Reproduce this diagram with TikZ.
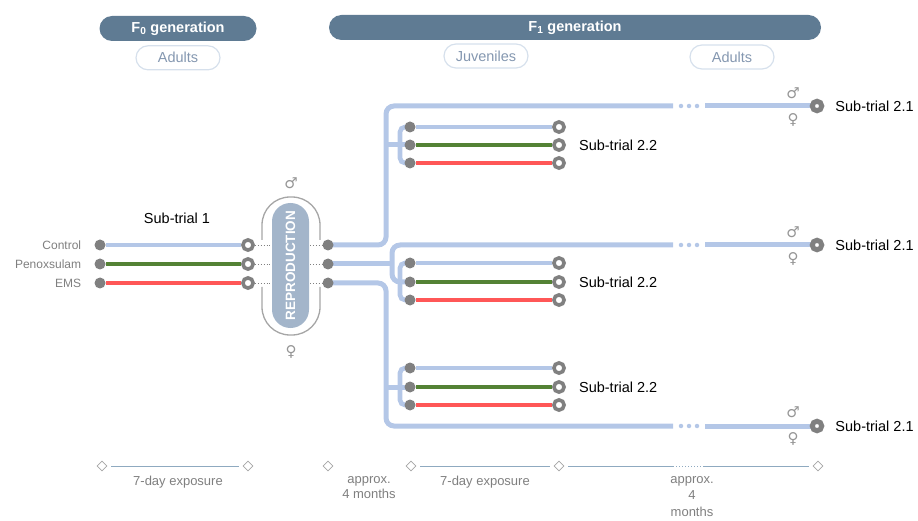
\documentclass[tikz,border=0pt]{standalone}
\usepackage{fontspec}
\setmainfont{Liberation Sans}
\newfontfamily\symfont{DejaVu Sans}
\usetikzlibrary{shapes.geometric, positioning, backgrounds}
\definecolor{headblue}{RGB}{95,123,147}
\definecolor{pillline}{RGB}{214,224,236}
\definecolor{pilltext}{RGB}{132,151,176}
\definecolor{ctrlblue}{RGB}{180,199,231}
\definecolor{penogreen}{RGB}{84,130,53}
\definecolor{emsred}{RGB}{255,87,87}
\definecolor{dotgray}{RGB}{128,128,128}
\definecolor{reprofill}{RGB}{163,181,202}
\definecolor{capgray}{RGB}{166,166,166}
\definecolor{textgray}{RGB}{127,127,127}
\definecolor{symgray}{RGB}{150,150,150}
\definecolor{timeblue}{RGB}{143,170,192}
\tikzstyle{header} = [rectangle, rounded corners=12.5pt, fill=headblue, text=white, font=\bfseries\fontsize{14.5}{17}\selectfont, minimum height=25pt, inner sep=0pt]
\tikzstyle{stage} = [rectangle, rounded corners=12pt, draw=pillline, line width=1.2pt, text=pilltext, font=\fontsize{14.5}{17}\selectfont, minimum width=84pt, minimum height=24pt, inner sep=0pt]
\tikzstyle{fulldot} = [circle, fill=dotgray, minimum size=11pt, inner sep=0pt]
\tikzstyle{opendot} = [circle, draw=dotgray, line width=3.6pt, fill=white, minimum size=10.2pt, inner sep=0pt]
\tikzstyle{enddot} = [circle, draw=dotgray, line width=5pt, fill=white, minimum size=9.5pt, inner sep=0pt]
\tikzstyle{repro} = [rectangle, rotate=90, rounded corners=18.4pt, fill=reprofill, text=white, font=\bfseries\fontsize{13.5}{15}\selectfont, minimum width=125pt, minimum height=37pt, inner sep=0pt]
\tikzstyle{capline} = [draw=capgray, line width=1.3pt, rounded corners=28pt]
\tikzstyle{sexsym} = [text=symgray, font=\symfont\fontsize{15}{17}\selectfont, inner sep=0pt]
\tikzstyle{treat} = [text=textgray, font=\fontsize{12}{14}\selectfont, inner sep=0pt]
\tikzstyle{trial} = [text=black, font=\fontsize{14.5}{17}\selectfont, inner sep=0pt]
\tikzstyle{daymark} = [diamond, draw=capgray, line width=0.8pt, fill=white, minimum size=10pt, inner sep=0pt]
\tikzstyle{period} = [text=textgray, font=\fontsize{13}{15.5}\selectfont, align=center, anchor=north, inner sep=0pt]
\tikzstyle{ctrl} = [line width=4.6pt, draw=ctrlblue]
\tikzstyle{peno} = [line width=4.6pt, draw=penogreen]
\tikzstyle{ems} = [line width=4.6pt, draw=emsred]
\tikzstyle{branch} = [line width=5pt, draw=ctrlblue, rounded corners=8pt]
\tikzstyle{bracket} = [line width=4.6pt, draw=ctrlblue, rounded corners=5pt]
\tikzstyle{gap} = [line width=4.5pt, draw=ctrlblue, line cap=round, dash pattern=on 0pt off 8pt]
\tikzstyle{matelink} = [dotted, draw=dotgray, line width=0.9pt]
\tikzstyle{timeline} = [draw=timeblue, line width=1pt, shorten <=4pt, shorten >=4pt]
\begin{document}
\begin{tikzpicture}[x=1pt, y=-1pt]
\useasboundingbox (0,0) rectangle (918,521);
% generations and stages
\node (f0gen) [header, minimum width=157pt] at (178,28.5) {F\textsubscript{0} generation};
\node (f0adult) [stage, below=4pt of f0gen] {Adults};
\node (f1gen) [header, minimum width=492pt] at (575,27.5) {F\textsubscript{1} generation};
\node (f1juv) [stage] at (486,56) {Juveniles};
\node (f1adult) [stage] at (732,57) {Adults};
% sub-trial 1
\node (st1) [trial] at (177,218) {Sub-trial 1};
\node (d1a) [fulldot] at (100,245) {};
\node (d1b) [fulldot] at (100,264) {};
\node (d1c) [fulldot] at (100,283) {};
\node (lctrl) [treat, left=13pt of d1a] {Control};
\node (lpeno) [treat, left=13pt of d1b] {Penoxsulam};
\node (lems) [treat, left=13pt of d1c] {EMS};
\node (r1a) [opendot] at (248,245) {};
\node (r1b) [opendot] at (248,264) {};
\node (r1c) [opendot] at (248,283) {};
% reproduction
\node (repro) [repro] at (290.5,265.5) {REPRODUCTION};
\node (male0) [sexsym] at (291,183) {♂};
\node (female0) [sexsym] at (291,352) {♀};
\draw [capline] (262,240) -- (262,197) -- (320,197) -- (320,240);
\draw [capline] (262,287) -- (262,335) -- (320,335) -- (320,287);
\node (f1a) [fulldot] at (328,245) {};
\node (f1b) [fulldot] at (328,264) {};
\node (f1c) [fulldot] at (328,283) {};
% sub-trial 2.2 groups
\node (d2a1) [fulldot] at (410,127) {};
\node (d2a2) [fulldot] at (410,145) {};
\node (d2a3) [fulldot] at (410,163) {};
\node (r2a1) [opendot] at (559,127) {};
\node (r2a2) [opendot] at (559,145) {};
\node (r2a3) [opendot] at (559,163) {};
\node (st2a) [trial, right=13pt of r2a2] {Sub-trial 2.2};
\node (d2b1) [fulldot] at (410,263) {};
\node (d2b2) [fulldot] at (410,282) {};
\node (d2b3) [fulldot] at (410,300) {};
\node (r2b1) [opendot] at (559,263) {};
\node (r2b2) [opendot] at (559,282) {};
\node (r2b3) [opendot] at (559,300) {};
\node (st2b) [trial, right=13pt of r2b2] {Sub-trial 2.2};
\node (d2c1) [fulldot] at (410,368) {};
\node (d2c2) [fulldot] at (410,387) {};
\node (d2c3) [fulldot] at (410,405) {};
\node (r2c1) [opendot] at (559,368) {};
\node (r2c2) [opendot] at (559,387) {};
\node (r2c3) [opendot] at (559,405) {};
\node (st2c) [trial, right=13pt of r2c2] {Sub-trial 2.2};
% sub-trial 2.1
\node (s21a) [enddot] at (817,106) {};
\node (s21b) [enddot] at (817,245) {};
\node (s21c) [enddot] at (817,426) {};
\node (st21a) [trial, right=11pt of s21a] {Sub-trial 2.1};
\node (st21b) [trial, right=11pt of s21b] {Sub-trial 2.1};
\node (st21c) [trial, right=11pt of s21c] {Sub-trial 2.1};
\node (male1) [sexsym] at (793,93) {♂};
\node (female1) [sexsym] at (793,120) {♀};
\node (male2) [sexsym] at (793,232) {♂};
\node (female2) [sexsym] at (793,259) {♀};
\node (male3) [sexsym] at (793,412) {♂};
\node (female3) [sexsym] at (793,439) {♀};
\coordinate (ct) at (386,106);
\coordinate (jt) at (386,145);
\coordinate (cmt) at (392,245);
\coordinate (jm) at (392,264);
\coordinate (cmb) at (392,282);
\coordinate (cb) at (386,426);
\coordinate (jb) at (386,387);
\coordinate (ga1) at (673,106);
\coordinate (gb1) at (705,106);
\coordinate (ga2) at (673,245);
\coordinate (gb2) at (705,245);
\coordinate (ga3) at (673,426);
\coordinate (gb3) at (705,426);
% time line
\node (t1) [daymark] at (102,466) {};
\node (t2) [daymark] at (248,466) {};
\node (t3) [daymark] at (328,466) {};
\node (t4) [daymark] at (411,466) {};
\node (t5) [daymark] at (559,466) {};
\node (t6) [daymark] at (818,466) {};
\coordinate (ta) at (673,466);
\coordinate (tb) at (703,466);
\draw [timeline] (t1) -- (t2);
\draw [timeline] (t4) -- (t5);
\draw [timeline, shorten >=0pt] (t5) -- (ta);
\draw [timeline, dotted, shorten <=0pt, shorten >=0pt] (ta) -- (tb);
\draw [timeline, shorten <=0pt] (tb) -- (t6);
\node (p1) [period] at (178,476) {7-day exposure};
\node (p2) [period] at (369,476) {approx.\\4 months};
\node (p3) [period] at (485,476) {7-day exposure};
\node (p4) [period, text width=50pt, font=\fontsize{13}{16.5}\selectfont] at (692,476) {approx.\\4\\months};
\begin{scope}[on background layer]
\draw [ctrl] (d1a) -- (r1a);
\draw [peno] (d1b) -- (r1b);
\draw [ems] (d1c) -- (r1c);
\draw [matelink] (r1a) -- (f1a);
\draw [matelink] (r1b) -- (f1b);
\draw [matelink] (r1c) -- (f1c);
\draw [branch] (f1a.center) -| (ct) -- (ga1);
\draw [gap] (681,106) -- (697,106);
\draw [branch] (gb1) -- (s21a.center);
\draw [branch] (jt) -- (d2a2.center);
\draw [bracket] (d2a1.center) -- ++(-10,0) |- (d2a3.center);
\draw [branch] (ga2) -- (cmt) -- (cmb) -- (d2b2.center);
\draw [branch] (f1b.center) -- (jm);
\draw [gap] (681,245) -- (697,245);
\draw [branch] (gb2) -- (s21b.center);
\draw [bracket] (d2b1.center) -- ++(-10,0) |- (d2b3.center);
\draw [branch] (f1c.center) -| (cb) -- (ga3);
\draw [gap] (681,426) -- (697,426);
\draw [branch] (gb3) -- (s21c.center);
\draw [branch] (jb) -- (d2c2.center);
\draw [bracket] (d2c1.center) -- ++(-10,0) |- (d2c3.center);
\draw [ctrl] (d2a1) -- (r2a1);
\draw [peno] (d2a2) -- (r2a2);
\draw [ems] (d2a3) -- (r2a3);
\draw [ctrl] (d2b1) -- (r2b1);
\draw [peno] (d2b2) -- (r2b2);
\draw [ems] (d2b3) -- (r2b3);
\draw [ctrl] (d2c1) -- (r2c1);
\draw [peno] (d2c2) -- (r2c2);
\draw [ems] (d2c3) -- (r2c3);
\end{scope}
\end{tikzpicture}
\end{document}
